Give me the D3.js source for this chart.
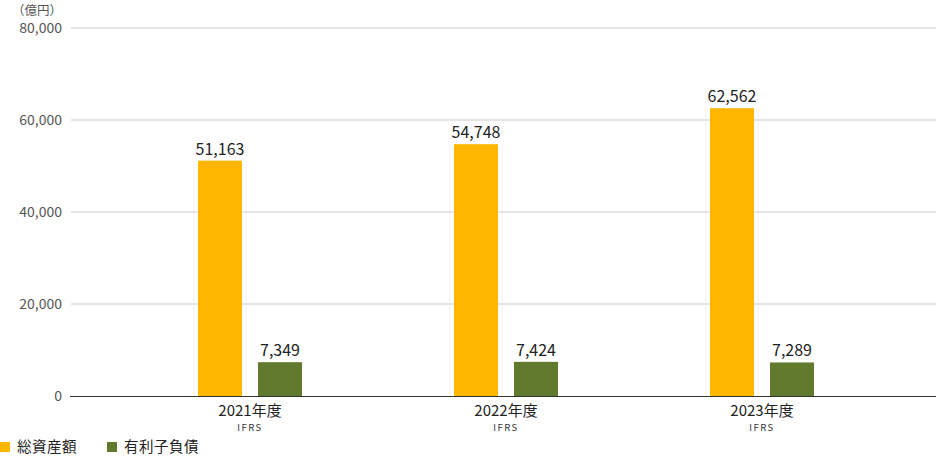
<!DOCTYPE html>
<html>
<head>
<meta charset="utf-8">
<script src="https://cdn.jsdelivr.net/npm/d3@7"></script>
<style>
  body { margin: 0; background: #fff; }
  #chart { width: 936px; height: 456px; }
  text { font-family: "Noto Sans CJK JP", "Noto Sans", sans-serif; }
</style>
</head>
<body>
<div id="chart"></div>
<script>
// data
const years = ["2021年度", "2022年度", "2023年度"];
const subLabels = ["IFRS", "IFRS", "IFRS"];
const totalAssets = [51163, 54748, 62562];
const interestDebt = [7349, 7424, 7289];
const seriesNames = ["総資産額", "有利子負債"];
const seriesColors = ["#ffb600", "#627a2d"];
const yTicks = [0, 20000, 40000, 60000, 80000];
const unitLabel = "（億円）";

const width = 936, height = 456;
const margin = {top: 28, left: 70, right: 0, bottom: 60};

const svg = d3.select("#chart")
    .append("svg")
    .attr("width", width)
    .attr("height", height);

/* SCALES */
const xScale = d3.scalePoint()
    .domain(years)
    .range([250, 762]);

const yScale = d3.scaleLinear()
    .domain([0, 80000])
    .range([height - margin.bottom, margin.top]);

const barW = 44, gap = 16;

/* GRID + Y LABELS */
svg.selectAll("line.grid")
    .data(yTicks.filter(d => d > 0))
    .enter()
    .append("line")
        .attr("class", "grid")
        .attr("x1", margin.left + 1)
        .attr("x2", width)
        .attr("y1", d => yScale(d))
        .attr("y2", d => yScale(d))
        .attr("stroke", "#c8c8c8")
        .attr("stroke-width", 1);

svg.selectAll("text.ytick")
    .data(yTicks)
    .enter()
    .append("text")
        .attr("class", "ytick")
        .attr("x", 62)
        .attr("y", d => yScale(d))
        .attr("dy", "0.36em")
        .attr("text-anchor", "end")
        .attr("font-size", 14)
        .attr("fill", "#555")
        .text(d => d3.format(",")(d));

svg.append("text")
    .attr("x", 62)
    .attr("y", 10)
    .attr("dy", "0.36em")
    .attr("text-anchor", "end")
    .attr("font-size", 12.5)
    .attr("fill", "#555")
    .text(unitLabel);

/* BARS */
const rows = years.map((y, i) => ({year: y, sub: subLabels[i], values: [totalAssets[i], interestDebt[i]]}));

const groups = svg.selectAll("g.group")
    .data(rows)
    .enter()
    .append("g")
        .attr("class", "group")
        .attr("transform", d => `translate(${xScale(d.year)},0)`);

const barX = j => j === 0 ? -(gap / 2 + barW) : gap / 2;

groups.selectAll("rect")
    .data(d => d.values)
    .enter()
    .append("rect")
        .attr("x", (v, j) => barX(j))
        .attr("y", v => yScale(v))
        .attr("width", barW)
        .attr("height", v => yScale(0) - yScale(v))
        .attr("fill", (v, j) => seriesColors[j]);

groups.selectAll("text.val")
    .data(d => d.values)
    .enter()
    .append("text")
        .attr("class", "val")
        .attr("x", (v, j) => barX(j) + barW / 2)
        .attr("y", v => yScale(v) - 6)
        .attr("text-anchor", "middle")
        .attr("font-size", 16)
        .attr("fill", "#222")
        .text(v => d3.format(",")(v));

/* BASELINE */
svg.append("line")
    .attr("x1", margin.left)
    .attr("x2", width)
    .attr("y1", yScale(0) + 0.5)
    .attr("y2", yScale(0) + 0.5)
    .attr("stroke", "#333")
    .attr("stroke-width", 1.2);

/* X LABELS */
groups.append("text")
    .attr("y", 415.5)
    .attr("text-anchor", "middle")
    .attr("font-size", 15)
    .attr("fill", "#222")
    .text(d => d.year);

groups.append("text")
    .attr("y", 431)
    .attr("text-anchor", "middle")
    .attr("font-size", 9.5)
    .attr("fill", "#333")
    .attr("letter-spacing", "1.5px")
    .text(d => d.sub);

/* LEGEND */
const legendX = [0, 107];
const legend = svg.selectAll("g.legend")
    .data(seriesNames)
    .enter()
    .append("g")
        .attr("class", "legend")
        .attr("transform", (d, i) => `translate(${legendX[i]},442)`);

legend.append("rect")
    .attr("width", 10)
    .attr("height", 10)
    .attr("fill", (d, i) => seriesColors[i]);

legend.append("text")
    .attr("x", 17)
    .attr("y", 5)
    .attr("dy", "0.36em")
    .attr("font-size", 14.5)
    .attr("fill", "#222")
    .attr("letter-spacing", "0.5px")
    .text(d => d);
</script>
</body>
</html>
